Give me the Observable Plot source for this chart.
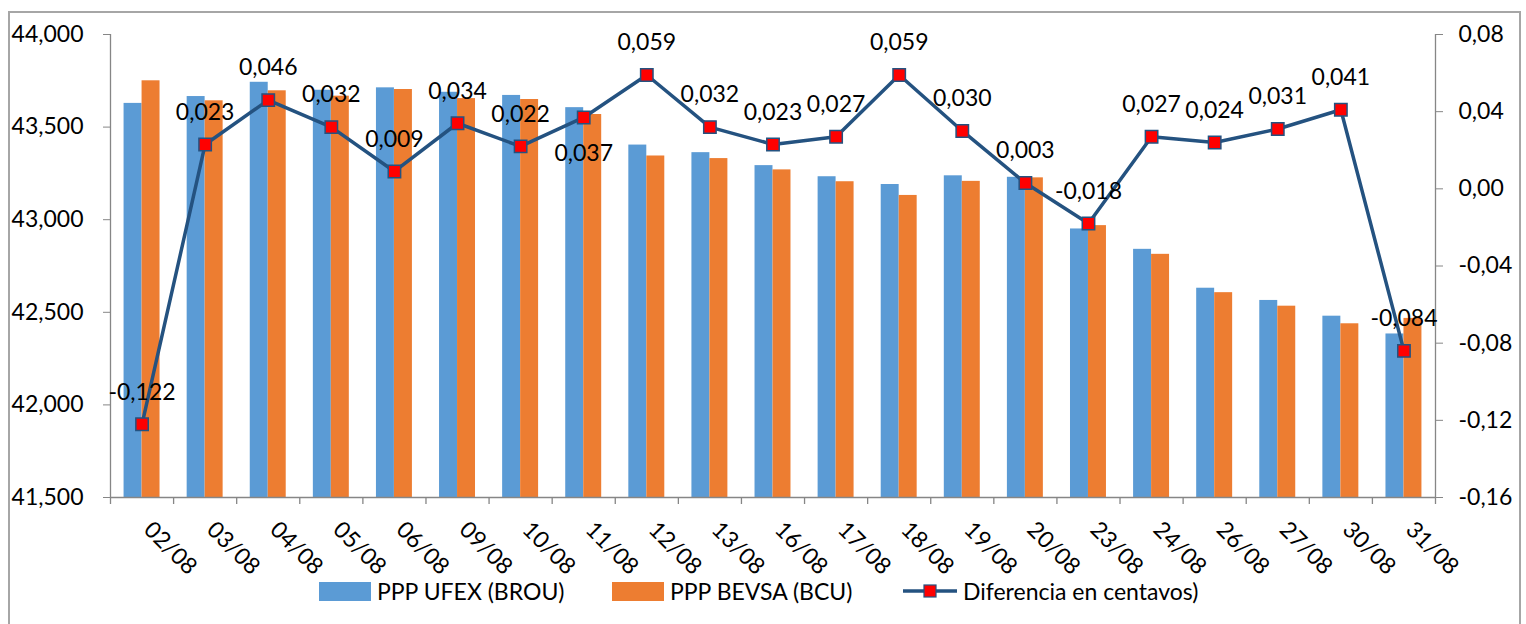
<!DOCTYPE html>
<html>
<head>
<meta charset="utf-8">
<script src="https://cdn.jsdelivr.net/npm/d3@7"></script>
<script src="https://cdn.jsdelivr.net/npm/@observablehq/plot@0.6"></script>
<style>
  body { margin: 0; background: #fff; font-family: Lato, "Liberation Sans", sans-serif; }
  #wrap { position: relative; width: 1526px; height: 624px; overflow: hidden; background: #fff; }
  #border { position: absolute; left: 8px; top: 11px; width: 1509px; height: 700px; border: 2px solid #a6a6a6; box-sizing: content-box; }
  #chart { position: absolute; left: 0; top: 0; }
  #legend { position: absolute; left: 0; top: 577px; width: 1526px; height: 28px; font-size: 23px; color: #000; }
  .item { position: absolute; top: 0; height: 28px; display: flex; align-items: center; white-space: nowrap; }
  .sw { display: inline-block; width: 52px; height: 19px; margin-right: 6px; }
  .item svg { margin-right: 6px; }
</style>
</head>
<body>
<div id="wrap">
  <div id="border"></div>
  <div id="chart"></div>
  <div id="legend"></div>
</div>
<script>
// ---- data ----
const dates = ["02/08","03/08","04/08","05/08","06/08","09/08","10/08","11/08","12/08","13/08","16/08","17/08","18/08","19/08","20/08","23/08","24/08","26/08","27/08","30/08","31/08"];
const ufex  = [43.628,43.665,43.742,43.699,43.712,43.688,43.671,43.605,43.403,43.362,43.292,43.232,43.190,43.237,43.229,42.950,42.840,42.630,42.564,42.479,42.383];
const bevsa = [43.750,43.642,43.696,43.667,43.703,43.654,43.649,43.568,43.344,43.330,43.269,43.205,43.131,43.207,43.226,42.968,42.813,42.606,42.533,42.438,42.467];
const diff  = [-0.122,0.023,0.046,0.032,0.009,0.034,0.022,0.037,0.059,0.032,0.023,0.027,0.059,0.030,0.003,-0.018,0.027,0.024,0.031,0.041,-0.084];
const seriesNames = ["PPP UFEX (BROU)", "PPP BEVSA (BCU)", "Diferencia en centavos)"];
const leftTicks = [41.5, 42, 42.5, 43, 43.5, 44];
const rightTicks = [-0.16, -0.12, -0.08, -0.04, 0, 0.04, 0.08];
const labelsBelow = ["11/08"];

// ---- styles / layout ----
const colors = { ufex: "#5B9BD5", bevsa: "#ED7D31", line: "#245280", marker: "#FF0000", axis: "#868686" };
const W = 1526, H = 568, mL = 110, mR = 91, mT = 34, mB = 71;
const FS = 23;
const step = (W - mL - mR) / dates.length;
const leftDomain = [leftTicks[0], leftTicks[leftTicks.length - 1]];
const rightDomain = [rightTicks[0], rightTicks[rightTicks.length - 1]];
const toLeft = d3.scaleLinear().domain(rightDomain).range(leftDomain);
const toRight = toLeft.invert;

const fmt = (v, n) => {
  const a = Math.abs(v).toFixed(n);
  const neg = v < 0 && +a !== 0;
  return (neg ? "-" : "") + a.replace(".", ",");
};

const rows = dates.map((d, i) => ({ date: d, ufex: ufex[i], bevsa: bevsa[i], diff: diff[i], yd: toLeft(diff[i]) }));
const font = "Lato, 'Liberation Sans', sans-serif";

const chart = Plot.plot({
  width: W, height: H,
  marginLeft: mL, marginRight: mR, marginTop: mT, marginBottom: mB,
  style: { fontFamily: font, fontSize: FS + "px", color: "#000", background: "transparent", overflow: "visible" },
  x: { type: "band", domain: dates, paddingInner: 0.43, paddingOuter: 0.215, round: false, axis: null },
  y: { domain: leftDomain, axis: null, label: null },
  marks: [
    Plot.barY(rows, { x: "date", y1: leftDomain[0], y2: "ufex", fill: colors.ufex, insetRight: 18 }),
    Plot.barY(rows, { x: "date", y1: leftDomain[0], y2: "bevsa", fill: colors.bevsa, insetLeft: 18 }),
    Plot.ruleY([leftDomain[0]], { stroke: colors.axis, strokeWidth: 1.3 }),
    Plot.ruleX([dates[0]], { x: d => d, dx: -step / 2, stroke: colors.axis, strokeWidth: 1.3 }),
    Plot.ruleX([dates[dates.length - 1]], { x: d => d, dx: step / 2, stroke: colors.axis, strokeWidth: 1.3 }),
    Plot.ruleX(dates, { x: d => d, dx: -step / 2, insetTop: H - mT - mB, insetBottom: -7, stroke: colors.axis, strokeWidth: 1.3 }),
    Plot.ruleX([dates[dates.length - 1]], { x: d => d, dx: step / 2, insetTop: H - mT - mB, insetBottom: -7, stroke: colors.axis, strokeWidth: 1.3 }),
    Plot.axisY(leftTicks, { anchor: "left", label: null, tickSize: 7, tickPadding: 20, stroke: colors.axis, fontSize: FS, tickFormat: v => fmt(v, 3) }),
    Plot.axisY(rightTicks.map(toLeft), { anchor: "right", label: null, tickSize: 7, tickPadding: 16, stroke: colors.axis, fontSize: FS, tickFormat: v => fmt(toRight(v), 2) }),
    Plot.text(dates, { x: d => d, text: d => d, frameAnchor: "bottom", rotate: 45, dx: 23, dy: 56, fontSize: FS, fill: "#000" }),
    Plot.line(rows, { x: "date", y: "yd", stroke: colors.line, strokeWidth: 3.5 }),
    Plot.dot(rows, { x: "date", y: "yd", symbol: "square", r: 7, fill: colors.marker, stroke: colors.line, strokeWidth: 1.5 }),
    Plot.text(rows, { filter: d => !labelsBelow.includes(d.date), x: "date", y: "yd", text: d => fmt(d.diff, 3), dy: -32, fontSize: FS, fill: "#000" }),
    Plot.text(rows, { filter: d => labelsBelow.includes(d.date), x: "date", y: "yd", text: d => fmt(d.diff, 3), dy: 36, fontSize: FS, fill: "#000" })
  ]
});
document.getElementById("chart").appendChild(chart);

// ---- legend ----
const legend = d3.select("#legend");
const itemLefts = [319, 612, 903];
seriesNames.forEach((name, i) => {
  const it = legend.append("div").attr("class", "item").style("left", itemLefts[i] + "px");
  if (i < 2) {
    it.append("span").attr("class", "sw").style("background", i === 0 ? colors.ufex : colors.bevsa);
  } else {
    const s = it.append("svg").attr("width", 54).attr("height", 20);
    s.append("line").attr("x1", 0).attr("x2", 54).attr("y1", 10).attr("y2", 10).attr("stroke", colors.line).attr("stroke-width", 3.5);
    s.append("rect").attr("x", 21).attr("y", 4).attr("width", 12).attr("height", 12).attr("fill", colors.marker).attr("stroke", colors.line).attr("stroke-width", 1.2);
  }
  it.append("span").text(name);
});
</script>
</body>
</html>
